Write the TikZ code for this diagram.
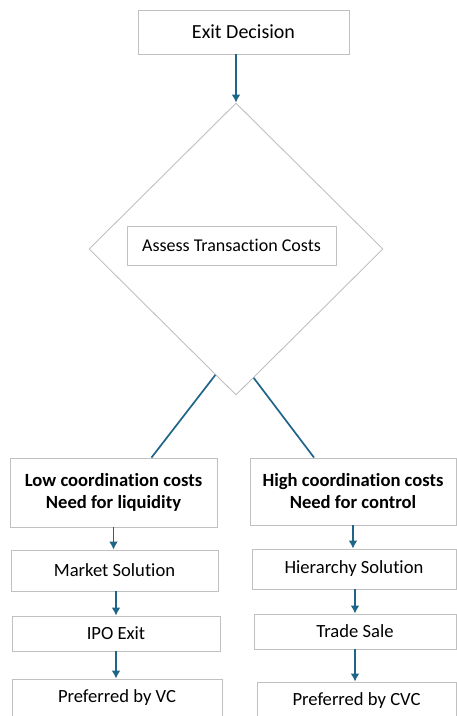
\documentclass[tikz,border=0pt]{standalone}
\usepackage{fontspec}
\setmainfont{Carlito}[Ligatures=NoCommon]
\usetikzlibrary{arrows,arrows.meta,shapes,positioning,calc}
\definecolor{flowblue}{RGB}{31,101,136}
\definecolor{boxgray}{RGB}{192,192,192}

\begin{document}
\begin{tikzpicture}[x=1pt,y=-1pt,
    box/.style={draw=boxgray, line width=0.9pt, fill=white, inner sep=0pt,
                align=center, font=\fontsize{18.6}{22}\selectfont},
    boldbox/.style={box, font=\fontsize{18.6}{22}\selectfont\bfseries},
    flow/.style={-{Latex[length=8pt,width=9pt]}, flowblue, line width=1.7pt},
    branch/.style={flowblue, line width=1.7pt}]
    \useasboundingbox (0,0) rectangle (457,716);
    \clip (0,0) rectangle (457,716);
    % top of the chart
    \node [box, minimum width=211pt, minimum height=44pt,
           font=\fontsize{20}{24}\selectfont] (exit) at (243.5,32) {Exit Decision};
    \node [draw=boxgray, line width=0.9pt, diamond, inner sep=0pt,
           minimum width=294pt, minimum height=292pt] (crit) at (236,249) {};
    \node [box, minimum width=209pt, minimum height=39pt,
           font=\fontsize{18}{22}\selectfont] (assess) at (231.5,245.5) {Assess Transaction Costs};
    \draw [flow] (exit.south -| crit.north) -- (crit.north);
    % left branch
    \node [boldbox, minimum width=207pt, minimum height=69pt] (low) at (113.5,492.5)
        {Low coordination costs\\Need for liquidity};
    \node [box, minimum width=207pt, minimum height=41pt] (market) at (114.5,570.5) {Market Solution};
    \node [box, minimum width=208pt, minimum height=35pt] (ipo) at (116,633.5) {IPO Exit};
    \node [box, minimum width=210pt, minimum height=38pt] (vc) at (117,698) {Preferred by VC};
    % right branch
    \node [boldbox, minimum width=206pt, minimum height=67pt] (high) at (353,491.5)
        {High coordination costs\\Need for control};
    \node [box, minimum width=204pt, minimum height=40pt] (hier) at (354,569) {Hierarchy Solution};
    \node [box, minimum width=202pt, minimum height=35pt] (trade) at (355,631.5) {Trade Sale};
    \node [box, minimum width=199pt, minimum height=38pt] (cvc) at (356.5,701) {Preferred by CVC};
    % connectors
    \draw [branch] ($(crit.south)!0.14!(crit.west)$) -- ($(low.north)+(38,0)$);
    \draw [branch] ($(crit.south)!0.12!(crit.east)$) -- ($(high.north)+(-39,0)$);
    \draw [flow] (low.south) -- (low.south |- market.north);
    \draw [flow] (market.south -| ipo.north) -- (ipo.north);
    \draw [flow] (ipo.south) -- (ipo.south |- vc.north);
    \draw [flow] (high.south) -- (high.south |- hier.north);
    \draw [flow] (hier.south -| trade.north) -- (trade.north);
    \draw [flow] (trade.south) -- (trade.south |- cvc.north);
\end{tikzpicture}
\end{document}
